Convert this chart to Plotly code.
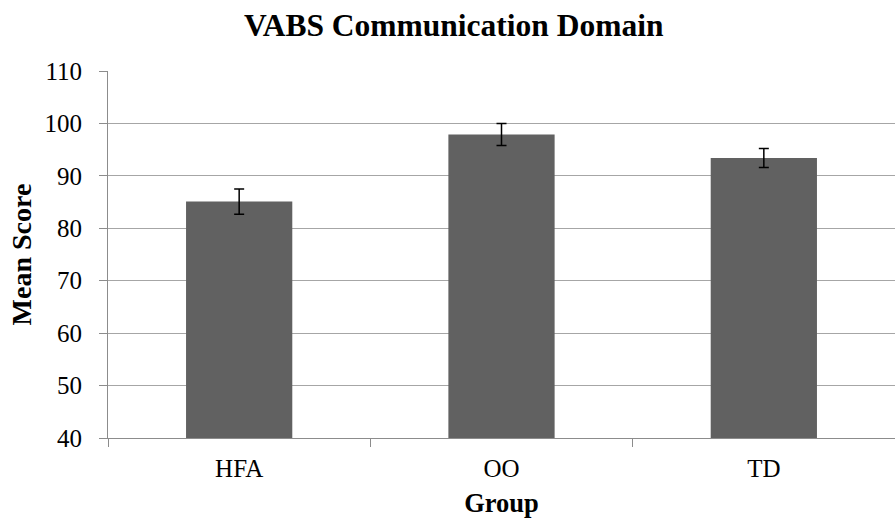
import plotly.graph_objects as go

groups = ["HFA", "OO", "TD"]
means = [85.1, 97.9, 93.4]
errors = [2.4, 2.1, 1.8]

fig = go.Figure()
fig.add_trace(go.Bar(
    x=groups,
    y=means,
    marker=dict(color="#616161", line=dict(width=0)),
    error_y=dict(type="data", array=errors, visible=True,
                 color="black", thickness=1.5, width=5),
))

font_family = "Liberation Serif, Times New Roman, serif"
fig.update_layout(
    width=895, height=529,
    margin=dict(l=108, r=0, t=71, b=91),
    paper_bgcolor="white", plot_bgcolor="white",
    bargap=0.595,
    showlegend=False,
    font=dict(family=font_family, color="black", size=25),
    title=dict(text="<b>VABS Communication Domain</b>", x=0.507, xanchor="center",
               y=1 - 25 / 529, yanchor="middle", font=dict(size=31.5, family=font_family)),
    xaxis=dict(
        title=dict(text="<b>Group</b>", font=dict(size=26.5), standoff=12),
        showline=True, linecolor="#8c8c8c", linewidth=1,
        ticks="outside", tickson="boundaries", ticklen=8, tickcolor="#8c8c8c",
        ticklabelstandoff=8,
        tickfont=dict(size=25),
        showgrid=False,
    ),
    yaxis=dict(
        title=dict(text="<b>Mean Score</b>", font=dict(size=28), standoff=4),
        range=[40, 110], dtick=10,
        showline=True, linecolor="#8c8c8c", linewidth=1,
        ticks="outside", ticklen=8, tickcolor="#8c8c8c",
        ticklabelstandoff=12,
        showgrid=True, gridcolor="#a6a6a6", gridwidth=1,
        tickfont=dict(size=25),
        zeroline=False,
    ),
)

fig.write_html("out.html", config={"displayModeBar": False},
               post_script="document.body.style.margin='0';")
